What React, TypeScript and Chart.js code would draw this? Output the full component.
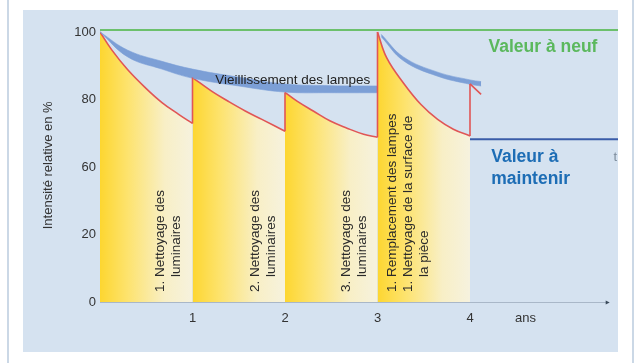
import React, { useEffect, useRef } from "react";
import { Chart, registerables } from "chart.js";

Chart.register(...registerables);

// ---- Data (years, % relative intensity) ----
const X_TICK_VALUES = [1, 2, 3, 4, 4.6];
const X_TICK_LABELS = ["1", "2", "3", "4", "ans"];
const Y_TICK_LABELS = [0, 20, 60, 80, 100];

const SEGMENT_1: [number, number][] = [[0, 100], [0.127, 94.7], [0.3, 88.8], [0.49, 83.5], [0.67, 79.1], [0.85, 75.6], [1.0, 72.9]];
const SEGMENT_2: [number, number][] = [[1, 86.5], [1.21, 82.4], [1.39, 79.4], [1.57, 76.6], [1.75, 74.1], [2.0, 70.6]];
const SEGMENT_3: [number, number][] = [[2, 82.1], [2.13, 79.5], [2.31, 76.5], [2.49, 73.6], [2.67, 71.5], [2.85, 69.7], [3.0, 68.8]];
const SEGMENT_4: [number, number][] = [[3, 100], [3.1, 92.3], [3.28, 84.9], [3.47, 78.5], [3.65, 74.1], [3.82, 71.2], [4.0, 69.2]];
const SEGMENT_5: [number, number][] = [[4, 84.6], [4.12, 81.5]];
const JUMPS: [number, number, number][] = [[1, 72.9, 86.5], [2, 70.6, 82.1], [3, 68.8, 100], [4, 69.2, 84.6]];

const AGING_1_UPPER: [number, number][] = [[0, 100], [0.3, 94.6], [0.67, 91.3], [1, 89.0], [1.5, 86.6], [2, 84.6], [2.5, 84.1], [3, 84.0]];
const AGING_1_LOWER: [number, number][] = [[0, 100], [0.3, 92.6], [0.67, 89.0], [1, 86.3], [1.5, 84.0], [2, 82.2], [2.5, 82.0], [3, 82.0]];
const AGING_2_UPPER: [number, number][] = [[3.04, 99.3], [3.28, 92.6], [3.65, 88.1], [4.0, 85.8], [4.12, 85.3]];
const AGING_2_LOWER: [number, number][] = [[3.04, 98.6], [3.28, 91.5], [3.65, 86.9], [4.0, 84.5], [4.12, 84.0]];

const NEW_VALUE: [number, number][] = [[0, 100.6], [5.6, 100.6]];
const MAINTAIN_VALUE: [number, number][] = [[4, 68.2], [5.6, 68.2]];

const NOTES = [
  { x: 0.65, lines: ["1. Nettoyage des", "luminaires"] },
  { x: 1.68, lines: ["2. Nettoyage des", "luminaires"] },
  { x: 2.66, lines: ["3. Nettoyage des", "luminaires"] },
  { x: 3.165, lines: ["1. Remplacement des lampes", "1. Nettoyage de la surface de", "la pièce"] },
];

// piecewise map from % to the (broken) axis position
function toAxis(v: number): number {
  for (let i = 0; i < Y_TICK_LABELS.length - 1; i++) {
    const a = Y_TICK_LABELS[i];
    const b = Y_TICK_LABELS[i + 1];
    if (v <= b || i === Y_TICK_LABELS.length - 2) {
      return (i + (v - a) / (b - a)) * 20;
    }
  }
  return v;
}

const pts = (arr: [number, number][]) => arr.map(([x, y]) => ({ x, y: toAxis(y) }));

const FONT = "'Liberation Sans', Arial, Helvetica, sans-serif";

function gradientFill(x0: number, x1: number) {
  return (ctx: any) => {
    const chart = ctx.chart;
    if (!chart.chartArea) return "rgba(0,0,0,0)";
    const a = chart.scales.x.getPixelForValue(x0);
    const b = chart.scales.x.getPixelForValue(x1);
    const g = chart.ctx.createLinearGradient(a, 0, b, 0);
    g.addColorStop(0, "#fdd630");
    g.addColorStop(0.3, "#fde36e");
    g.addColorStop(0.7, "#f8efc6");
    g.addColorStop(1, "#f6f2de");
    return g;
  };
}

const annotationPlugin = {
  id: "annotations",
  afterDatasetsDraw(chart: any) {
    const { ctx, scales } = chart;
    const xs = scales.x;
    const ys = scales.y;
    const y0 = ys.getPixelForValue(0);
    ctx.save();
    // x axis line with arrow
    const xa = xs.getPixelForValue(0);
    const xb = xs.getPixelForValue(5.51);
    ctx.strokeStyle = "#a9b7c8";
    ctx.lineWidth = 1;
    ctx.beginPath();
    ctx.moveTo(xa, y0 + 0.5);
    ctx.lineTo(xb - 3, y0 + 0.5);
    ctx.stroke();
    ctx.fillStyle = "#3a4a5a";
    ctx.beginPath();
    ctx.moveTo(xb, y0 + 0.5);
    ctx.lineTo(xb - 4, y0 - 1.5);
    ctx.lineTo(xb - 4, y0 + 2.5);
    ctx.closePath();
    ctx.fill();

    // vertical notes
    ctx.font = `13.5px ${FONT}`;
    ctx.fillStyle = "#2a2a2a";
    ctx.textBaseline = "middle";
    ctx.textAlign = "left";
    const indent = ctx.measureText("1. ").width;
    NOTES.forEach((n) => {
      const px = xs.getPixelForValue(n.x);
      n.lines.forEach((line, i) => {
        const off = /^\d/.test(line) ? 0 : indent;
        ctx.save();
        ctx.translate(px + i * 16, y0 - 10);
        ctx.rotate(-Math.PI / 2);
        ctx.fillText(line, off, 0);
        ctx.restore();
      });
    });

    // horizontal labels
    ctx.textBaseline = "alphabetic";
    ctx.fillStyle = "#222";
    ctx.font = `13.5px ${FONT}`;
    ctx.fillText("Vieillissement des lampes", xs.getPixelForValue(1.246), ys.getPixelForValue(toAxis(84.6)));

    ctx.font = `bold 17.5px ${FONT}`;
    ctx.fillStyle = "#5bb85d";
    ctx.fillText("Valeur à neuf", xs.getPixelForValue(4.2), ys.getPixelForValue(toAxis(94.2)));

    ctx.fillStyle = "#1d6db5";
    const by = ys.getPixelForValue(toAxis(61.6));
    ctx.fillText("Valeur à", xs.getPixelForValue(4.23), by);
    ctx.fillText("maintenir", xs.getPixelForValue(4.23), by + 22.5);

    ctx.font = `13px ${FONT}`;
    ctx.fillStyle = "#7d8c9c";
    ctx.fillText("t", xs.getPixelForValue(5.55), by - 1);
    ctx.restore();
  },
};

export default function App() {
  const ref = useRef<HTMLCanvasElement>(null);

  useEffect(() => {
    if (!ref.current) return;
    const redLine = { borderColor: "#e05656", borderWidth: 1.6, pointRadius: 0, tension: 0.4 };
    const band = { borderColor: "#7c9fd6", borderWidth: 0.6, pointRadius: 0, tension: 0.4 };
    const jumpData: any[] = [];
    JUMPS.forEach(([x, a, b]) => {
      jumpData.push({ x, y: toAxis(a) }, { x, y: toAxis(b) }, { x: x + 0.5, y: null });
    });

    const chart = new Chart(ref.current, {
      type: "line",
      data: {
        datasets: [
          { data: jumpData, borderColor: "#e05656", borderWidth: 1.6, pointRadius: 0, tension: 0, order: 1 } as any,
          { data: pts(SEGMENT_1), ...redLine, fill: "origin", backgroundColor: gradientFill(0, 1), order: 10 },
          { data: pts(SEGMENT_2), ...redLine, fill: "origin", backgroundColor: gradientFill(1, 2), order: 10 },
          { data: pts(SEGMENT_3), ...redLine, fill: "origin", backgroundColor: gradientFill(2, 3), order: 10 },
          { data: pts(SEGMENT_4), ...redLine, fill: "origin", backgroundColor: gradientFill(3, 4), order: 10 },
          { data: pts(SEGMENT_5), ...redLine, order: 1 },
          { data: pts(AGING_1_UPPER), ...band, order: 6 },
          { data: pts(AGING_1_LOWER), ...band, fill: 6, backgroundColor: "#7c9fd6", order: 6 },
          { data: pts(AGING_2_UPPER), ...band, order: 6 },
          { data: pts(AGING_2_LOWER), ...band, fill: 8, backgroundColor: "#7c9fd6", order: 6 },
          { data: pts(NEW_VALUE), borderColor: "#6cc06c", borderWidth: 2, pointRadius: 0, order: 3 },
          { data: pts(MAINTAIN_VALUE), borderColor: "#3a5ca8", borderWidth: 2, pointRadius: 0, order: 3 },
        ],
      },
      options: {
        animation: false,
        responsive: false,
        events: [],
        layout: { padding: { top: 18.6, left: 0, right: 0, bottom: 0 } },
        plugins: { legend: { display: false }, tooltip: { enabled: false } },
        scales: {
          x: {
            type: "linear",
            min: 0,
            max: 5.6,
            grid: { display: false, drawTicks: false },
            border: { display: false },
            afterBuildTicks: (s: any) => { s.ticks = X_TICK_VALUES.map((v) => ({ value: v })); },
            afterFit: (s: any) => { s.height = 50; },
            ticks: {
              padding: 9,
              color: "#333",
              font: { size: 13, family: FONT },
              callback: (_v: any, i: number) => X_TICK_LABELS[i],
            },
          },
          y: {
            type: "linear",
            min: 0,
            max: 81,
            grid: { display: false, drawTicks: false },
            border: { display: false },
            afterBuildTicks: (s: any) => { s.ticks = Y_TICK_LABELS.map((_, i) => ({ value: i * 20 })); },
            afterFit: (s: any) => { s.width = 77; },
            title: {
              display: true,
              text: "Intensité relative en %",
              color: "#333",
              font: { size: 13, family: FONT },
              padding: { top: 17.2, bottom: 0 },
            },
            ticks: {
              padding: 4,
              color: "#333",
              font: { size: 13, family: FONT },
              callback: (_v: any, i: number) => String(Y_TICK_LABELS[i]),
            },
          },
        },
      },
      plugins: [annotationPlugin],
    });
    return () => chart.destroy();
  }, []);

  return (
    <div style={{ position: "fixed", left: 0, top: 0, width: 637, height: 363, background: "#ffffff", overflow: "hidden" }}>
      <div style={{ position: "absolute", left: 7, top: 0, width: 2, height: 363, background: "#cbd8e6" }} />
      <div style={{ position: "absolute", left: 632, top: 0, width: 2, height: 363, background: "#cbd8e6" }} />
      <div style={{ position: "absolute", left: 23, top: 10, width: 595, height: 342, background: "#d5e2f0" }}>
        <canvas ref={ref} width={595} height={342} style={{ display: "block" }} />
      </div>
    </div>
  );
}
